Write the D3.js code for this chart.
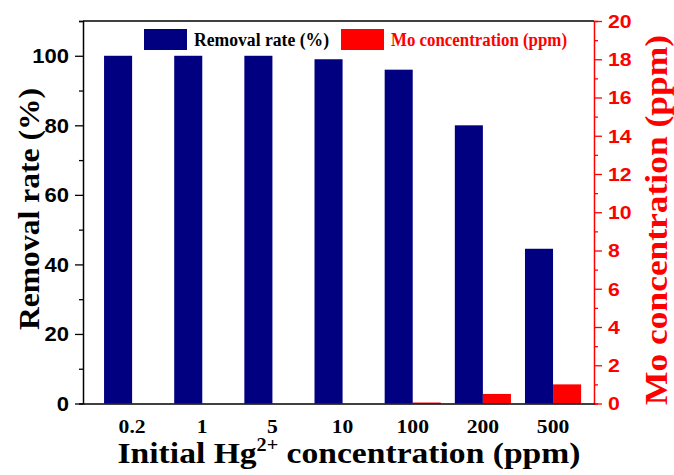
<!DOCTYPE html>
<html>
<head>
<meta charset="utf-8">
<script src="https://cdn.jsdelivr.net/npm/d3@7"></script>
<style>
    body { margin: 0; background: #fff; }
    svg { display: block; }
</style>
</head>
<body>
<div id="chart"></div>
<script>
// data
const categories = ["0.2", "1", "5", "10", "100", "200", "500"];
const removalRate = [100, 100, 100, 99, 96, 80, 44.5];
const moConc = [0, 0, 0, 0, 0.05, 0.5, 1.0];
const leftTicks = [0, 20, 40, 60, 80, 100];
const rightTicks = [0, 2, 4, 6, 8, 10, 12, 14, 16, 18, 20];

const width = 674, height = 475;
const plotL = 83, plotR = 594, plotT = 21, plotB = 403.5;
const blue = "#000080", red = "#ff0000";
const serif = "'Liberation Serif', 'Times New Roman', serif";
const sans = "'Liberation Sans', Arial, sans-serif";

const svg = d3.select("#chart").append("svg")
    .attr("width", width)
    .attr("height", height);

const x = d3.scaleBand().domain(categories).range([plotL, plotR])
    .paddingInner(0.2).paddingOuter(0.242).align(0.62);
const bw = x.bandwidth() / 2;
const yL = d3.scaleLinear().domain([0, 110]).range([plotB, plotT]);
const yR = d3.scaleLinear().domain([0, 20]).range([plotB, plotT]);

// bars
svg.selectAll(".rem").data(removalRate).enter().append("rect")
    .attr("x", (d, i) => x(categories[i]))
    .attr("y", d => yL(d))
    .attr("width", bw)
    .attr("height", d => plotB - yL(d))
    .attr("fill", blue);

svg.selectAll(".mo").data(moConc).enter().append("rect")
    .attr("x", (d, i) => x(categories[i]) + bw)
    .attr("y", d => yR(d))
    .attr("width", bw)
    .attr("height", d => Math.max(plotB - yR(d), d > 0 ? 1 : 0))
    .attr("fill", red);

// left axis
const gL = svg.append("g").attr("transform", `translate(${plotL},0)`)
    .call(d3.axisLeft(yL).tickValues(d3.range(0, 111, 10)).tickSize(4).tickFormat(""));
gL.selectAll(".tick line").filter(d => d % 20 === 0).attr("x2", -8);
gL.selectAll(".tick line").attr("stroke", "#000").attr("stroke-width", 1.3);
gL.select(".domain").attr("stroke", "#000").attr("stroke-width", 1.5);
gL.selectAll(".lab").data(leftTicks).enter().append("text")
    .attr("transform", d => `translate(-14,${yL(d)}) scale(1.1,1)`)
    .attr("dy", "0.36em")
    .attr("text-anchor", "end")
    .attr("fill", "#000")
    .style("font-family", sans).style("font-weight", "bold").style("font-size", "20px")
    .text(d => d);

// right axis
const gR = svg.append("g").attr("transform", `translate(${plotR},0)`)
    .call(d3.axisRight(yR).tickValues(d3.range(0, 21, 1)).tickSize(4).tickFormat(""));
gR.selectAll(".tick line").filter(d => d % 2 === 0).attr("x2", 8);
gR.selectAll(".tick line").attr("stroke", red).attr("stroke-width", 1.3);
gR.select(".domain").attr("stroke", red).attr("stroke-width", 1.5);
gR.selectAll(".lab").data(rightTicks).enter().append("text")
    .attr("transform", d => `translate(14,${yR(d)}) scale(1.12,1)`)
    .attr("dy", "0.36em")
    .attr("fill", red)
    .style("font-family", sans).style("font-weight", "bold").style("font-size", "19px")
    .text(d => d);

// top and bottom frame
svg.append("line").attr("x1", plotL).attr("x2", plotR).attr("y1", plotT).attr("y2", plotT)
    .attr("stroke", "#000").attr("stroke-width", 1.5);
const gB = svg.append("g").attr("transform", `translate(0,${plotB})`)
    .call(d3.axisBottom(x).tickSize(0));
gB.select(".domain").attr("stroke", "#000").attr("stroke-width", 1.5);
gB.selectAll(".tick text")
    .attr("y", null).attr("dy", null)
    .attr("transform", "translate(0,29) scale(1.2,1)")
    .style("font-family", serif).style("font-weight", "bold").style("font-size", "18px")
    .attr("fill", "#000");

// axis titles
const xt = svg.append("text")
    .attr("transform", "translate(349,463) scale(1.12,1)")
    .attr("text-anchor", "middle")
    .attr("fill", "#000")
    .style("font-family", serif).style("font-weight", "bold").style("font-size", "30px");
xt.append("tspan").text("Initial Hg");
xt.append("tspan").attr("dy", -12).style("font-size", "18px").text("2+");
xt.append("tspan").attr("dy", 12).text(" concentration (ppm)");

svg.append("text")
    .attr("transform", "translate(39,209) rotate(-90)")
    .attr("text-anchor", "middle")
    .attr("fill", "#000")
    .attr("textLength", 242).attr("lengthAdjust", "spacingAndGlyphs")
    .style("font-family", serif).style("font-weight", "bold").style("font-size", "30px")
    .text("Removal rate (%)");

svg.append("text")
    .attr("transform", "translate(667,220) rotate(-90)")
    .attr("text-anchor", "middle")
    .attr("fill", red)
    .attr("textLength", 370).attr("lengthAdjust", "spacingAndGlyphs")
    .style("font-family", serif).style("font-weight", "bold").style("font-size", "32px")
    .text("Mo concentration (ppm)");

// legend
const legend = [
    { label: "Removal rate (%)", color: blue, text: "#000", x: 144, len: 135 },
    { label: "Mo concentration (ppm)", color: red, text: red, x: 341, len: 176 }
];
const lg = svg.selectAll(".legend").data(legend).enter().append("g");
lg.append("rect")
    .attr("x", d => d.x).attr("y", 29).attr("width", 43).attr("height", 21)
    .attr("fill", d => d.color);
lg.append("text")
    .attr("x", d => d.x + 50).attr("y", 46)
    .attr("fill", d => d.text)
    .attr("textLength", d => d.len).attr("lengthAdjust", "spacingAndGlyphs")
    .style("font-family", serif).style("font-weight", "bold").style("font-size", "18px")
    .text(d => d.label);
</script>
</body>
</html>
